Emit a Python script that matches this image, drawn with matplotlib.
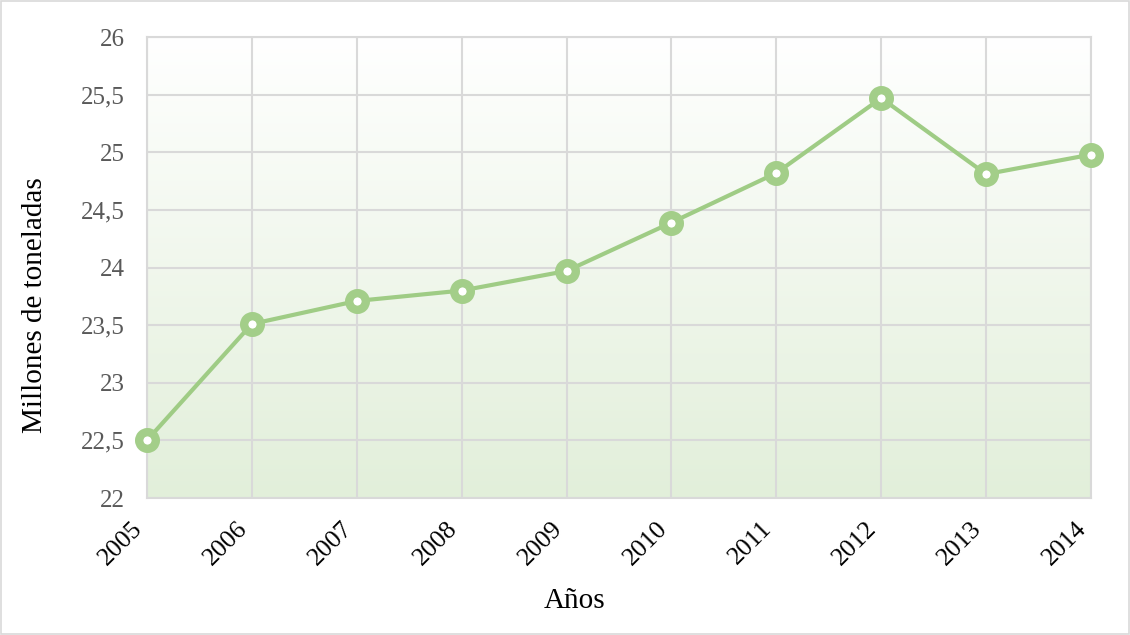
import numpy as np
from matplotlib import pyplot as plt
from matplotlib.patches import Rectangle

years = ['2005', '2006', '2007', '2008', '2009', '2010', '2011', '2012', '2013', '2014']
toneladas = [22.50, 23.51, 23.71, 23.80, 23.97, 24.39, 24.82, 25.47, 24.81, 24.98]
yticks = [22, 22.5, 23, 23.5, 24, 24.5, 25, 25.5, 26]

plt.rcParams['font.family'] = ['Liberation Serif', 'DejaVu Serif']

fig = plt.figure(figsize=(11.3, 6.35), dpi=100)
fig.patches.append(Rectangle((0.001, 0.001), 0.998, 0.997, transform=fig.transFigure,
                             fill=False, edgecolor='#d9d9d9', linewidth=1.2))
ax = fig.add_axes([0.130, 0.2157, 0.8355, 0.726])

# fondo degradado blanco -> verde claro
grad = np.linspace(0, 1, 256).reshape(-1, 1)
top = np.array([1.0, 1.0, 1.0])
bot = np.array([0xe2, 0xef, 0xda]) / 255
img = top + (bot - top) * grad[:, :, None]
ax.imshow(img, extent=[0, 1, 0, 1], transform=ax.transAxes, aspect='auto', zorder=0)

x = np.arange(len(years))
ax.plot(x, toneladas, color='#9fcc85', linewidth=3, marker='o', markersize=12,
        markerfacecolor='white', markeredgecolor='#a3ce89', markeredgewidth=6, zorder=3,
        clip_on=False)

ax.set_xlim(0, len(years) - 1)
ax.set_ylim(22, 26)
ax.set_xticks(x)
ax.set_xticklabels(years, rotation=45, fontsize=18.5, color='black', ha='right', va='top')
ax.set_yticks(yticks)
ax.set_yticklabels([('%g' % v).replace('.', ',') for v in yticks], fontsize=18, color='#595959')
ax.tick_params(axis='y', length=0, pad=16)
ax.tick_params(axis='x', length=0, pad=14)

ax.grid(True, color='#d9d9d9', linewidth=1.5, zorder=1)
ax.set_axisbelow(True)
for s in ax.spines.values():
    s.set_color('#d9d9d9')
    s.set_linewidth(1.5)

fig.text(35 / 1130, 1 - 305 / 635, 'Millones de toneladas', fontsize=21,
         rotation=90, ha='center', va='center')
fig.text(575 / 1130, 1 - 601 / 635, 'Años', fontsize=21, ha='center', va='center')

fig.savefig('out.png', dpi=100)
